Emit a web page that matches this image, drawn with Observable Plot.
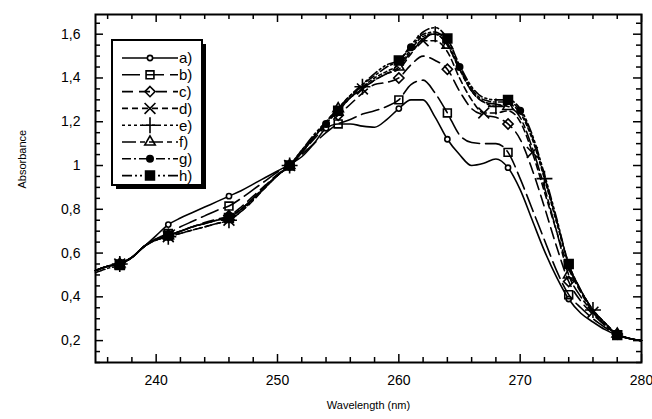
<!DOCTYPE html>
<html><head><meta charset="utf-8">
<script src="https://cdn.jsdelivr.net/npm/d3@7"></script>
<script src="https://cdn.jsdelivr.net/npm/@observablehq/plot@0.6"></script>
<style>body{margin:0;background:#fff;} svg{display:block;}</style>
</head><body><div id="chart"></div>
<script>
const wavelength = [235,236,237,238,239,240,241,242,243,244,245,246,247,248,249,250,251,252,253,254,255,256,257,258,259,260,261,262,263,264,265,266,267,268,269,270,271,272,273,274,275,276,277,278,279,280];
const seriesA = [0.52,0.54,0.555,0.58,0.63,0.68,0.73,0.76,0.785,0.81,0.835,0.86,0.885,0.915,0.945,0.975, 1.005,1.04,1.1,1.17,1.19,1.19,1.18,1.175,1.21,1.26, 1.30,1.30,1.22,1.12,1.05,1.0,1.01,1.03,0.99,0.89, 0.75,0.61,0.49,0.39,0.325,0.285,0.25,0.225,0.21,0.2];
const seriesB = [0.52,0.54,0.55,0.58,0.63,0.665,0.69,0.72,0.745,0.77,0.795,0.815,0.85,0.89,0.93,0.97, 1.0,1.05,1.1,1.15,1.19,1.21,1.235,1.25,1.27,1.30, 1.37,1.39,1.33,1.24,1.14,1.105,1.10,1.10,1.06,0.94, 0.80,0.66,0.52,0.41,0.35,0.30,0.26,0.225,0.21,0.2];
const seriesC = [0.52,0.54,0.55,0.58,0.63,0.66,0.68,0.70,0.72,0.74,0.755,0.77,0.81,0.86,0.91,0.96, 1.0,1.06,1.12,1.18,1.23,1.28,1.33,1.37,1.38,1.40, 1.46,1.50,1.48,1.44,1.34,1.26,1.23,1.22,1.19,1.12, 0.98,0.81,0.63,0.47,0.38,0.32,0.27,0.23,0.21,0.2];
const seriesD = [0.52,0.54,0.55,0.58,0.63,0.66,0.675,0.69,0.705,0.72,0.735,0.75,0.79,0.84,0.90,0.955, 1.0,1.06,1.13,1.19,1.25,1.31,1.35,1.39,1.42,1.44, 1.51,1.57,1.57,1.52,1.40,1.30,1.24,1.24,1.25,1.20, 1.06,0.88,0.70,0.53,0.42,0.33,0.27,0.23,0.21,0.2];
const seriesE = [0.52,0.54,0.55,0.58,0.63,0.66,0.675,0.69,0.705,0.72,0.735,0.75,0.79,0.845,0.90,0.955, 1.0,1.06,1.13,1.2,1.26,1.32,1.36,1.40,1.43,1.46, 1.53,1.59,1.60,1.55,1.44,1.34,1.29,1.27,1.28,1.24, 1.12,0.94,0.74,0.55,0.43,0.34,0.28,0.23,0.21,0.2];
const seriesF = [0.52,0.54,0.55,0.58,0.63,0.665,0.68,0.70,0.72,0.735,0.75,0.765,0.80,0.85,0.905,0.955, 1.0,1.06,1.13,1.2,1.26,1.31,1.35,1.39,1.42,1.45, 1.52,1.58,1.60,1.55,1.44,1.34,1.29,1.28,1.27,1.22, 1.08,0.90,0.70,0.50,0.40,0.33,0.27,0.23,0.21,0.2];
const seriesG = [0.52,0.54,0.55,0.58,0.63,0.665,0.68,0.70,0.72,0.735,0.75,0.765,0.80,0.85,0.905,0.955, 1.0,1.07,1.13,1.19,1.26,1.32,1.37,1.41,1.45,1.48, 1.54,1.60,1.61,1.56,1.45,1.35,1.30,1.29,1.29,1.25, 1.13,0.95,0.75,0.55,0.43,0.34,0.28,0.23,0.21,0.2];
const seriesH = [0.51,0.53,0.545,0.58,0.63,0.66,0.68,0.70,0.72,0.735,0.75,0.76,0.80,0.85,0.90,0.955, 1.0,1.07,1.14,1.2,1.25,1.31,1.37,1.42,1.46,1.48, 1.55,1.61,1.63,1.58,1.46,1.36,1.31,1.30,1.30,1.26, 1.14,0.96,0.76,0.55,0.43,0.34,0.28,0.225,0.21,0.2];

const markersA = [237,241,246,251,254,260,264,269,274,278];
const markersB = [237,241,246,251,255,260,264,269,274,278];
const markersC = [237,241,246,251,255,260,264,269,274,278];
const markersD = [237,241,246,251,257,262,267,271,276];
const markersE = [237,241,246,251,257,263,268,272,276];
const markersF = [237,241,246,251,255,260,264,269,274,278];
const markersG = [237,241,246,251,254,261,265,270,274,278];
const markersH = [237,241,246,251,255,260,264,269,274,278];

const labels = ["a)","b)","c)","d)","e)","f)","g)","h)"];
const xTicks = [240,250,260,270,280];
const yTicks = [0.2,0.4,0.6,0.8,1,1.2,1.4,1.6];

const styles = [
  {dash: null, symbol: "circle", r: 2.6, fill: "white"},
  {dash: "18,6", symbol: "square2", r: 5, fill: "none"},
  {dash: "11,6", symbol: "diamond2", r: 4.6, fill: "none"},
  {dash: "6,4", symbol: "times", r: 5, fill: "none"},
  {dash: "3,3", symbol: "plus", r: 5.2, fill: "none"},
  {dash: "14,4,5,4", symbol: "triangle2", r: 5, fill: "none"},
  {dash: "9,3,2,3", symbol: "circle", r: 3.2, fill: "black"},
  {dash: "10,3,2,3,2,3", symbol: "square", r: 5, fill: "black"}
];
const allSeries = [seriesA,seriesB,seriesC,seriesD,seriesE,seriesF,seriesG,seriesH];
const allMarkers = [markersA,markersB,markersC,markersD,markersE,markersF,markersG,markersH];

const W = 652, H = 419, mL = 95, mR = 11, mT = 14, mB = 57;
const pw = W - mL - mR, ph = H - mT - mB;
const xMinor = d3.range(236, 281, 2).filter(v => v % 10 !== 0);
const yMinor = d3.range(0.1, 1.69, 0.05).map(v => +v.toFixed(2)).filter(v => !yTicks.some(t => Math.abs(t - v) < 1e-6));

const marks = [];
allSeries.forEach((vals, i) => {
  const rows = wavelength.map((w, j) => ({w, v: vals[j]}));
  marks.push(Plot.line(rows, {x: "w", y: "v", stroke: "black", strokeWidth: 1.6, strokeDasharray: styles[i].dash, curve: "monotone-x"}));
});
allSeries.forEach((vals, i) => {
  const pts = allMarkers[i].map(w => ({w, v: vals[wavelength.indexOf(w)]}));
  const s = styles[i];
  marks.push(Plot.dot(pts, {x: "w", y: "v", symbol: () => s.symbol, r: s.r, fill: s.fill, stroke: "black", strokeWidth: 1.6}));
});
const tl = 8, ts = 5;
marks.push(
  Plot.tickX(xTicks, {x: d => d, insetTop: ph - tl, stroke: "black", strokeWidth: 1.5}),
  Plot.tickX(xTicks, {x: d => d, insetBottom: ph - tl, stroke: "black", strokeWidth: 1.5}),
  Plot.tickX(xMinor, {x: d => d, insetTop: ph - ts, stroke: "black", strokeWidth: 1.5}),
  Plot.tickX(xMinor, {x: d => d, insetBottom: ph - ts, stroke: "black", strokeWidth: 1.5}),
  Plot.tickY(yTicks, {y: d => d, insetRight: pw - tl, stroke: "black", strokeWidth: 1.5}),
  Plot.tickY(yTicks, {y: d => d, insetLeft: pw - tl, stroke: "black", strokeWidth: 1.5}),
  Plot.tickY(yMinor, {y: d => d, insetRight: pw - ts, stroke: "black", strokeWidth: 1.5}),
  Plot.tickY(yMinor, {y: d => d, insetLeft: pw - ts, stroke: "black", strokeWidth: 1.5}),
  Plot.frame({stroke: "black", strokeWidth: 2}),
  Plot.axisX(xTicks, {tickSize: 0, tickPadding: 13, fontSize: 14, label: null}),
  Plot.axisY(yTicks, {tickSize: 0, tickPadding: 15, fontSize: 14, label: null, tickFormat: d => String(d).replace(".", ",")}),
  Plot.text(["Wavelength (nm)"], {frameAnchor: "bottom", dy: 46, text: d => d, fontSize: 11}),
  Plot.text(["Absorbance"], {frameAnchor: "left", dx: -73, rotate: -90, text: d => d, fontSize: 11})
);

const plot = Plot.plot({
  width: W, height: H,
  marginLeft: mL, marginRight: mR, marginTop: mT, marginBottom: mB,
  style: {fontFamily: "Arial, 'Liberation Sans', sans-serif", color: "black", background: "white"},
  x: {domain: [235, 280]},
  y: {domain: [0.1, 1.69]},
  marks
});

const svg = d3.select(plot);
const lg = svg.append("g");
const bx = 112, by = 40, bw = 90, bh = 145;
lg.append("rect").attr("x", bx + 4).attr("y", by + 4).attr("width", bw).attr("height", bh).attr("fill", "black");
lg.append("rect").attr("x", bx).attr("y", by).attr("width", bw).attr("height", bh).attr("fill", "white").attr("stroke", "black").attr("stroke-width", 2);
const symMap = {circle: d3.symbolCircle, square2: d3.symbolSquare2, diamond2: d3.symbolDiamond2, times: d3.symbolTimes, plus: d3.symbolPlus, triangle2: d3.symbolTriangle2, square: d3.symbolSquare};
labels.forEach((lab, i) => {
  const y = 58 + i * 16.8;
  const s = styles[i];
  lg.append("line").attr("x1", 122).attr("x2", 178).attr("y1", y).attr("y2", y)
    .attr("stroke", "black").attr("stroke-width", 1.6).attr("stroke-dasharray", s.dash);
  lg.append("path").attr("transform", `translate(150,${y})`)
    .attr("d", d3.symbol(symMap[s.symbol], Math.PI * s.r * s.r)())
    .attr("fill", s.fill).attr("stroke", "black").attr("stroke-width", 1.6);
  lg.append("text").attr("x", 179).attr("y", y).attr("dy", "0.36em").attr("font-size", 15)
    .attr("text-anchor", "start").text(lab);
});

document.getElementById("chart").appendChild(plot);
</script>
</body></html>
